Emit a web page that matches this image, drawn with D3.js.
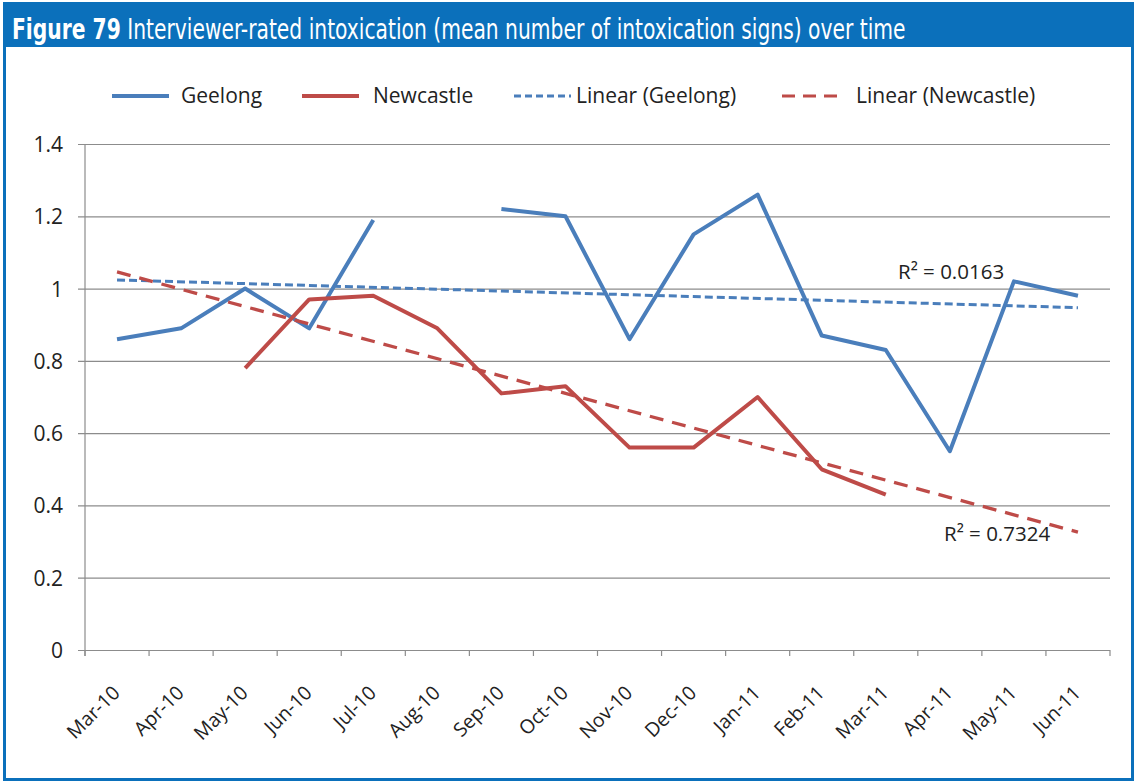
<!DOCTYPE html>
<html>
<head>
<meta charset="utf-8">
<script src="https://cdn.jsdelivr.net/npm/d3@7"></script>
<style>
  html, body { margin: 0; padding: 0; background: #fff; }
  svg { display: block; }
</style>
</head>
<body>
<svg id="chart" width="1137" height="783"></svg>
<script>
// Monthly categories
const months = ["Mar-10","Apr-10","May-10","Jun-10","Jul-10","Aug-10","Sep-10","Oct-10",
                "Nov-10","Dec-10","Jan-11","Feb-11","Mar-11","Apr-11","May-11","Jun-11"];
// Mean number of intoxication signs (null = no data that month)
const geelong   = [0.86, 0.89, 1.00, 0.89, 1.19, null, 1.22, 1.20, 0.86, 1.15, 1.26, 0.87, 0.83, 0.55, 1.02, 0.98];
const newcastle = [null, null, 0.78, 0.97, 0.98, 0.89, 0.71, 0.73, 0.56, 0.56, 0.70, 0.50, 0.43, null, null, null];
const yTicks = [0, 0.2, 0.4, 0.6, 0.8, 1, 1.2, 1.4];
const r2Labels = { geelong: "0.0163", newcastle: "0.7324" };

const BLUE = "#4a7ebb", RED = "#be4b48", FRAME = "#0b70bb";
const FONT = "'Open Sans', 'Noto Sans', sans-serif";
const TITLE_FONT = "'Liberation Sans Narrow', 'DejaVu Sans Condensed', 'Liberation Sans', sans-serif";

const svg = d3.select("#chart");

// Frame and title bar
svg.append("rect").attr("x", 4.5).attr("y", 3.5).attr("width", 1128).attr("height", 776)
  .attr("fill", "#fff").attr("stroke", FRAME).attr("stroke-width", 3);
svg.append("rect").attr("x", 3).attr("y", 2).attr("width", 1131).attr("height", 45).attr("fill", FRAME);

// Title: one text run, squeezed horizontally to a condensed look
const titleG = svg.append("g");
const title = titleG.append("text").attr("x", 0).attr("y", 0).attr("fill", "#fff")
  .attr("font-size", 28).attr("font-family", TITLE_FONT);
title.append("tspan").attr("font-weight", "bold").text("Figure 79");
title.append("tspan").text(" Interviewer-rated intoxication (mean number of intoxication signs) over time");
const natural = title.node().getComputedTextLength();
titleG.attr("transform", `translate(12,39) scale(${894 / natural},1)`);

// Plot geometry
const plotL = 85, plotR = 1110, plotT = 144, plotB = 650;
const x = d3.scaleBand().domain(months).range([plotL, plotR]).padding(0);
const y = d3.scaleLinear().domain([0, 1.4]).range([plotB, plotT]);
const cx = m => x(m) + x.bandwidth() / 2;

// Horizontal gridlines and y labels
const yAxis = d3.axisLeft(y).tickValues(yTicks).tickSize(0).tickFormat(d3.format("~g"));
const gy = svg.append("g").attr("transform", `translate(${plotL},0)`).call(yAxis);
gy.select(".domain").remove();
gy.selectAll(".tick line").attr("x1", -7).attr("x2", plotR - plotL).attr("stroke", "#8c8c8c").attr("stroke-width", 1.2);
gy.selectAll(".tick text").attr("x", -22).attr("dy", "0.36em").attr("font-size", 21)
  .attr("font-family", FONT).attr("fill", "#222");

// Vertical axis line
svg.append("line").attr("x1", plotL).attr("x2", plotL).attr("y1", plotT).attr("y2", plotB + 6)
  .attr("stroke", "#8c8c8c").attr("stroke-width", 1.2);

// Category ticks at band boundaries
const gx = svg.append("g");
gx.selectAll("line.bt").data(d3.range(months.length + 1)).enter().append("line")
  .attr("x1", i => plotL + i * x.bandwidth()).attr("x2", i => plotL + i * x.bandwidth())
  .attr("y1", plotB).attr("y2", plotB + 6).attr("stroke", "#8c8c8c").attr("stroke-width", 1.2);
gx.selectAll("text").data(months).enter().append("text")
  .attr("transform", d => `translate(${cx(d) + 4},${plotB + 44}) rotate(-45)`)
  .attr("text-anchor", "end").attr("font-size", 19.5).attr("font-family", FONT).attr("fill", "#222")
  .text(d => d);

// Least-squares trend over category index 1..n
function trend(vals) {
  const pts = vals.map((v, i) => [i + 1, v]).filter(p => p[1] != null);
  const mx = d3.mean(pts, p => p[0]), my = d3.mean(pts, p => p[1]);
  const b = d3.sum(pts, p => (p[0] - mx) * (p[1] - my)) / d3.sum(pts, p => (p[0] - mx) ** 2);
  return t => my + b * (t - mx);
}

const line = d3.line().defined(d => d.v != null).x(d => cx(d.m)).y(d => y(d.v));
const rows = vals => months.map((m, i) => ({ m, v: vals[i] }));

function drawTrend(vals, color, dash, w) {
  const f = trend(vals);
  const first = months[0], last = months[months.length - 1];
  svg.append("line")
    .attr("x1", cx(first)).attr("y1", y(f(1)))
    .attr("x2", cx(last)).attr("y2", y(f(months.length)))
    .attr("stroke", color).attr("stroke-width", w).attr("stroke-dasharray", dash);
}

// Data lines
svg.append("path").datum(rows(geelong)).attr("d", line)
  .attr("fill", "none").attr("stroke", BLUE).attr("stroke-width", 4).attr("stroke-linejoin", "round");
svg.append("path").datum(rows(newcastle)).attr("d", line)
  .attr("fill", "none").attr("stroke", RED).attr("stroke-width", 4).attr("stroke-linejoin", "round");

drawTrend(geelong, BLUE, "8,4", 3);
drawTrend(newcastle, RED, "14,9", 3.3);

// R² labels
function r2(txt, xx, yy) {
  svg.append("text").attr("x", xx).attr("y", yy).attr("font-size", 20.5)
    .attr("font-family", FONT).attr("fill", "#222").text("R\u00b2 = " + txt);
}
r2(r2Labels.geelong, 898, 279);
r2(r2Labels.newcastle, 944, 541);

// Legend
const legend = [
  { name: "Geelong", color: BLUE, dash: null, x: 112, tx: 181 },
  { name: "Newcastle", color: RED, dash: null, x: 302, tx: 373 },
  { name: "Linear (Geelong)", color: BLUE, dash: "7,4", x: 514, tx: 576 },
  { name: "Linear (Newcastle)", color: RED, dash: "13,8", x: 782, tx: 856 }
];
const lg = svg.append("g").selectAll("g").data(legend).enter().append("g");
lg.append("line").attr("x1", d => d.x).attr("x2", d => d.x + 57).attr("y1", 96).attr("y2", 96)
  .attr("stroke", d => d.color).attr("stroke-width", d => d.dash ? 3 : 4)
  .attr("stroke-dasharray", d => d.dash);
lg.append("text").attr("x", d => d.tx).attr("y", 103).attr("font-size", 21)
  .attr("font-family", FONT).attr("fill", "#222").text(d => d.name);
</script>
</body>
</html>
